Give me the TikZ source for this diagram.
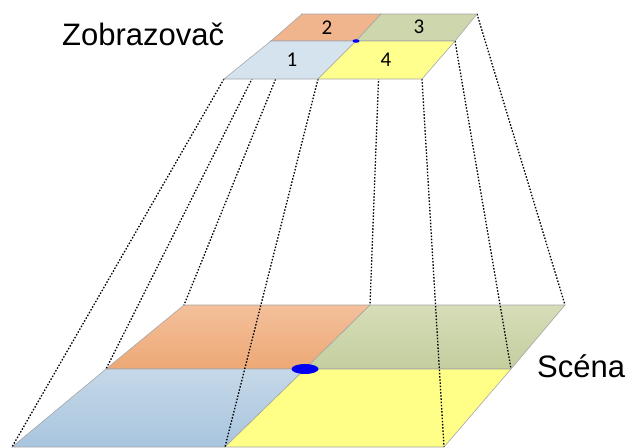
\documentclass[tikz,border=0pt]{standalone}
\usepackage{fontspec}
\setmainfont{Liberation Sans}
\newfontfamily\cellfont{Carlito}
\usepackage{tikz}
\usetikzlibrary{positioning}
\definecolor{edge}{HTML}{A6A6A6}
\definecolor{blu}{HTML}{D5E3EF}
\definecolor{ora}{HTML}{F0B58C}
\definecolor{olv}{HTML}{CED6AD}
\definecolor{yel}{HTML}{FFFF8E}
\definecolor{bluT}{HTML}{C5D8E8}
\definecolor{bluB}{HTML}{A8C5DE}
\definecolor{oraT}{HTML}{F4C09B}
\definecolor{oraB}{HTML}{EDA875}
\definecolor{olvT}{HTML}{D6DDB8}
\definecolor{olvB}{HTML}{C4CE9E}
\definecolor{yelS}{HTML}{FFFF88}
\definecolor{dotblue}{HTML}{0000F5}
\tikzset{cell/.style={draw=edge,line width=.6pt},
proj/.style={line width=1.3pt,dash pattern=on 1.5pt off 1.7pt},
title/.style={font=\fontsize{31}{36}\selectfont,inner sep=0pt,anchor=base west},
num/.style={font=\cellfont\fontsize{21}{24}\selectfont,inner sep=0pt}}

\begin{document}
\begin{tikzpicture}[x=1pt,y=-1pt]
\useasboundingbox (0,0) rectangle (628,447);
% display corners (b/m/f = back/middle/front, l/c/r = left/centre/right)
\coordinate (zbl) at (302,14); \coordinate (zbc) at (381,14); \coordinate (zbr) at (477,14);
\coordinate (zml) at (271,41); \coordinate (zmc) at (356,41); \coordinate (zmr) at (455,41);
\coordinate (zfl) at (224,79); \coordinate (zfc) at (318,79); \coordinate (zfr) at (422,79);
% scene corners
\coordinate (sbl) at (184,305); \coordinate (sbc) at (370,305); \coordinate (sbr) at (565,305);
\coordinate (sml) at (106,369); \coordinate (smc) at (305,369); \coordinate (smr) at (511,369);
\coordinate (sfl) at (12,447); \coordinate (sfc) at (225,447); \coordinate (sfr) at (444,447);
% scene
\path[cell,top color=oraT,bottom color=oraB] (sbl)--(sbc)--(smc)--(sml)--cycle;
\path[cell,top color=olvT,bottom color=olvB] (sbc)--(sbr)--(smr)--(smc)--cycle;
\path[cell,top color=bluT,bottom color=bluB] (sml)--(smc)--(sfc)--(sfl)--cycle;
\path[cell,fill=yelS] (smc)--(smr)--(sfr)--(sfc)--cycle;
% projection rays
\foreach \a/\b in {zfl/sfl,zml/sml,zbl/sbl,zfc/sfc,zbc/sbc,zfr/sfr,zmr/smr,zbr/sbr}
  \draw[proj] (\a)--(\b);
% display
\path[cell,fill=ora] (zbl)--(zbc)--(zmc)--(zml)--cycle;
\path[cell,fill=olv] (zbc)--(zbr)--(zmr)--(zmc)--cycle;
\path[cell,fill=blu] (zml)--(zmc)--(zfc)--(zfl)--cycle;
\path[cell,fill=yel] (zmc)--(zmr)--(zfr)--(zfc)--cycle;
\fill[dotblue] (zmc) ellipse (3.5 and 1.8);
\fill[dotblue] (smc) ellipse (13.5 and 5);
\node[num] (n2) at (327,28) {2};
\node[num] (n3) at (419,27) {3};
\node[num] (n1) at (292,60) {1};
\node[num] (n4) at (386,60) {4};
\node[title] (zobr) at (62,45) {Zobrazovač};
\node[title] (scena) at (537,377) {Scéna};
\end{tikzpicture}
\end{document}
